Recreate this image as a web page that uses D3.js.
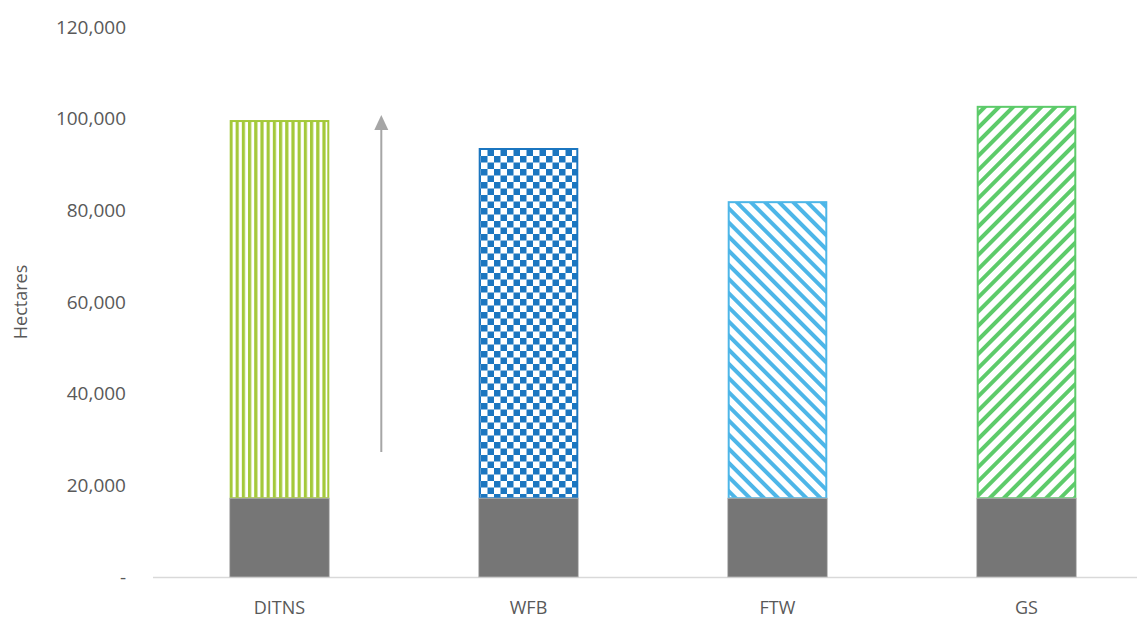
<!DOCTYPE html>
<html><head><meta charset="utf-8">
<script src="https://cdn.jsdelivr.net/npm/d3@7"></script>
<style>body{margin:0;background:#fff}svg{display:block}text{font-family:"Open Sans",sans-serif;fill:#595959}</style>
</head><body><svg id="c" width="1137" height="619"></svg>
<script>
const categories = ["DITNS", "WFB", "FTW", "GS"];
const baseValues = [17200, 17200, 17200, 17200];
const totalValues = [99700, 93600, 82000, 102800];
const yTicks = [0, 20000, 40000, 60000, 80000, 100000, 120000];
const arrowRange = [27300, 100800];
const colors = ["#A4C93A", "#1B76C0", "#4DB6E8", "#5DCB6A"];

const svg = d3.select("#c");
const x = d3.scaleBand().domain(categories).range([155, 1151]).paddingInner(0.6).paddingOuter(0.3);
const y = d3.scaleLinear().domain([0, 120000]).range([577, 27]);

const defs = svg.append("defs");
// vertical stripes
let p = defs.append("pattern").attr("id","p0").attr("patternUnits","userSpaceOnUse").attr("width",6.2).attr("height",6);
p.append("rect").attr("width",6.2).attr("height",6).attr("fill","#fff");
p.append("rect").attr("x",0).attr("width",3.2).attr("height",6).attr("fill",colors[0]);
// checkerboard
p = defs.append("pattern").attr("id","p1").attr("patternUnits","userSpaceOnUse").attr("width",13).attr("height",13);
p.append("rect").attr("width",13).attr("height",13).attr("fill","#fff");
p.append("rect").attr("width",6.5).attr("height",6.5).attr("fill",colors[1]);
p.append("rect").attr("x",6.5).attr("y",6.5).attr("width",6.5).attr("height",6.5).attr("fill",colors[1]);
// diagonal down-right
p = defs.append("pattern").attr("id","p2").attr("patternUnits","userSpaceOnUse").attr("width",10).attr("height",10).attr("patternTransform","rotate(45)");
p.append("rect").attr("width",10).attr("height",10).attr("fill","#fff");
p.append("rect").attr("width",10).attr("height",4).attr("fill",colors[2]);
// diagonal up-right
p = defs.append("pattern").attr("id","p3").attr("patternUnits","userSpaceOnUse").attr("width",10).attr("height",10).attr("patternTransform","rotate(-45)");
p.append("rect").attr("width",10).attr("height",10).attr("fill","#fff");
p.append("rect").attr("width",10).attr("height",4).attr("fill",colors[3]);

// axis line
svg.append("line").attr("x1",153).attr("x2",1137).attr("y1",y(0)+0.5).attr("y2",y(0)+0.5).attr("stroke","#d9d9d9").attr("stroke-width",1.5);

// y ticks
svg.append("g").selectAll("text").data(yTicks).join("text")
  .attr("x",126).attr("y",d=>y(d)).attr("dy","0.35em").attr("text-anchor","end")
  .style("font-size","19px")
  .text(d=> d===0 ? "-" : d3.format(",")(d));

// y label
svg.append("text").attr("transform","translate(27,"+y(60000)+") rotate(-90)")
  .attr("text-anchor","middle").style("font-size","18px").text("Hectares");

// x labels
svg.append("g").selectAll("text").data(categories).join("text")
  .attr("x",d=>x(d)+x.bandwidth()/2).attr("y",614).attr("text-anchor","middle")
  .style("font-size","18px").text(d=>d);

// top patterned segments
svg.append("g").selectAll("rect").data(categories).join("rect")
  .attr("x",d=>x(d)+1).attr("width",x.bandwidth()-2)
  .attr("y",(d,i)=>y(totalValues[i])+1).attr("height",(d,i)=>y(baseValues[i])-y(totalValues[i])-1)
  .attr("fill",(d,i)=>"url(#p"+i+")").attr("stroke",(d,i)=>colors[i]).attr("stroke-width",2);

// base gray segments
svg.append("g").selectAll("rect").data(categories).join("rect")
  .attr("x",d=>x(d)).attr("width",x.bandwidth())
  .attr("y",(d,i)=>y(baseValues[i])).attr("height",(d,i)=>y(0)-y(baseValues[i]))
  .attr("fill","#767676").attr("stroke","#bfbfbf").attr("stroke-width",0.8);

// arrow
const ax = x("DITNS") + x.bandwidth() + 52;
svg.append("line").attr("x1",ax).attr("x2",ax).attr("y1",y(arrowRange[0])).attr("y2",y(arrowRange[1])+12)
  .attr("stroke","#a6a6a6").attr("stroke-width",2);
svg.append("path").attr("d",`M${ax-7},${y(arrowRange[1])+15} L${ax},${y(arrowRange[1])} L${ax+7},${y(arrowRange[1])+15} Z`).attr("fill","#a6a6a6");
</script></body></html>
